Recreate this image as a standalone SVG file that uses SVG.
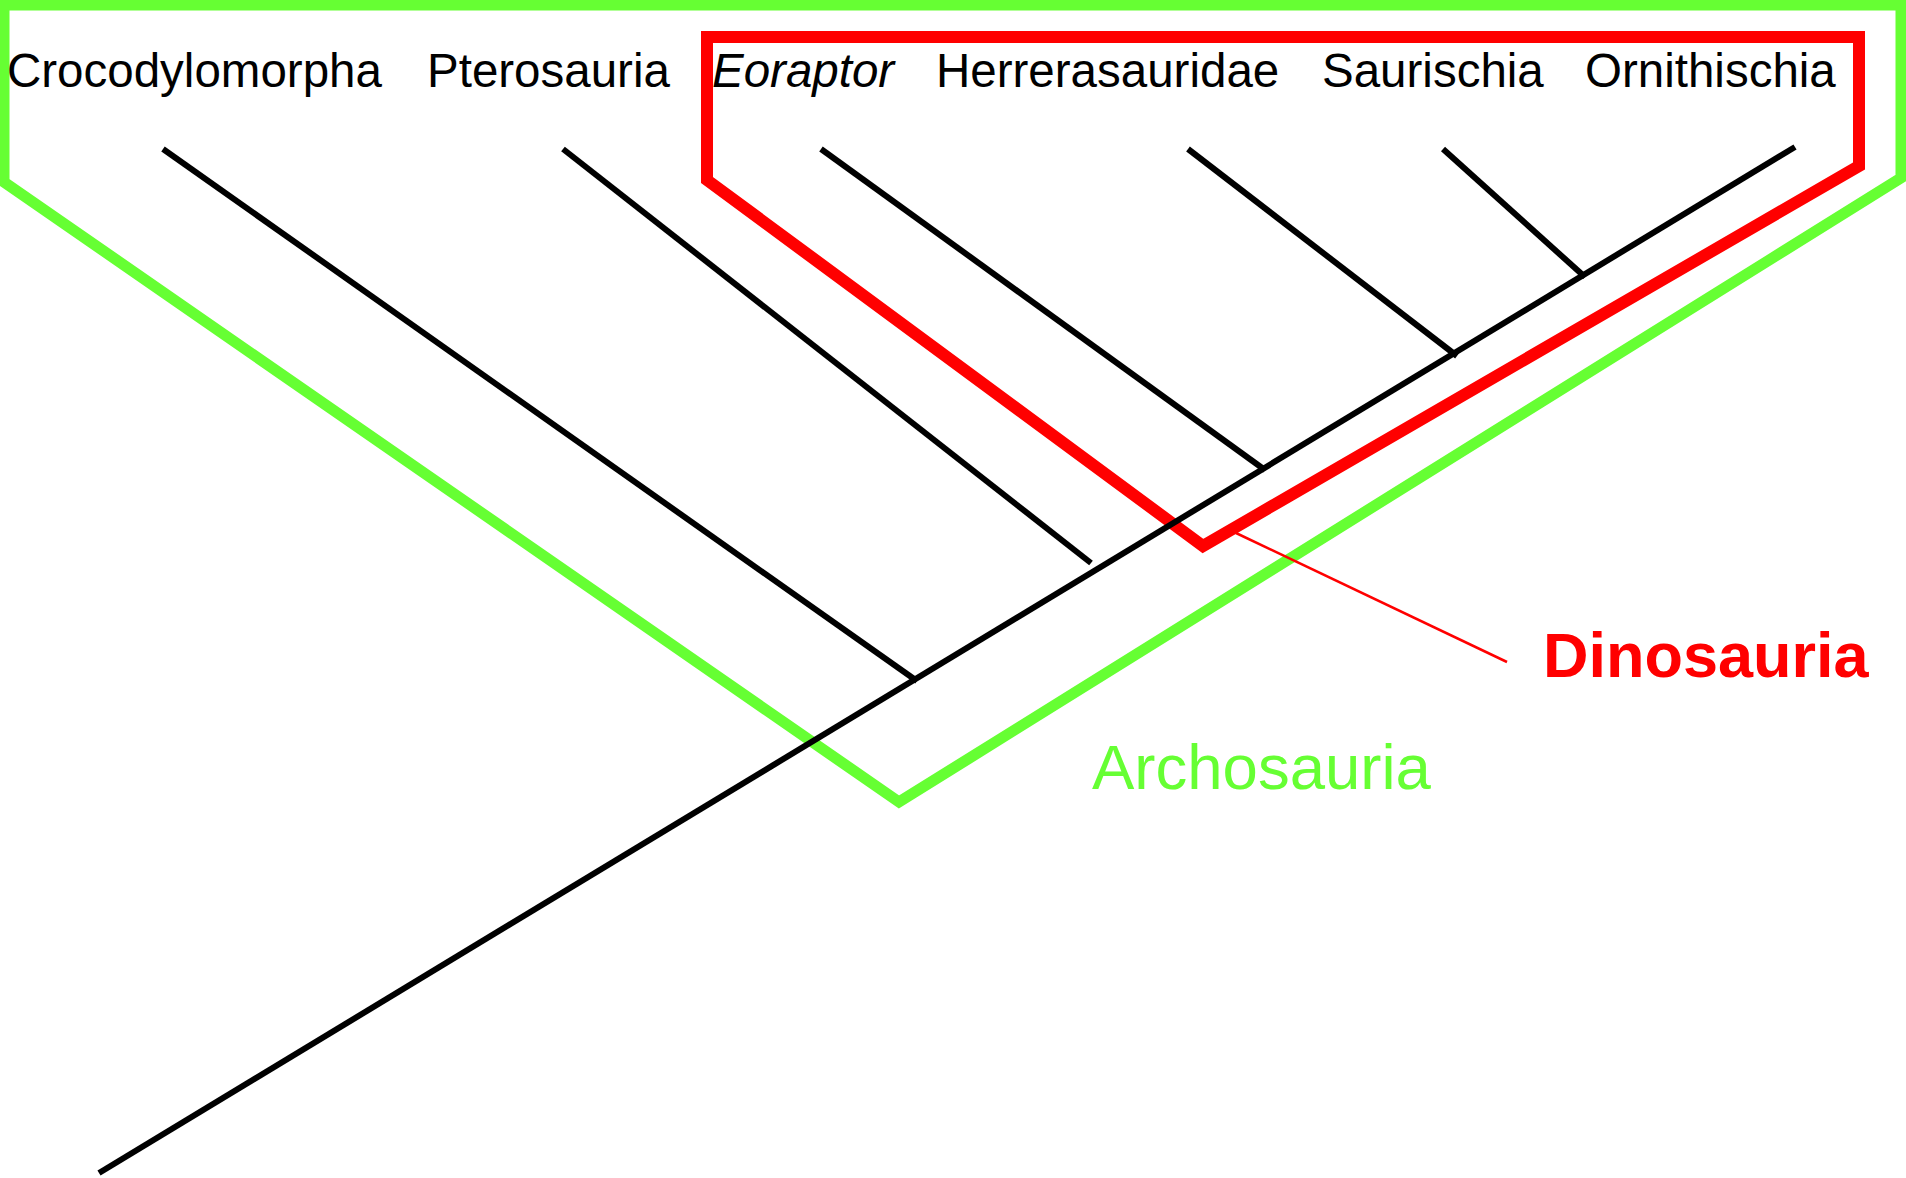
<svg xmlns="http://www.w3.org/2000/svg" width="1906" height="1178" viewBox="0 0 1906 1178">
  <style>
    .taxon { font-family: "Liberation Sans", Arial, sans-serif; font-size: 47.5px; fill: #000; }
    .branch { stroke: #000; stroke-width: 6; fill: none; stroke-linecap: butt; }
    .archo { stroke: #66ff33; stroke-width: 11; fill: none; stroke-linejoin: miter; }
    .dino { stroke: #ff0000; stroke-width: 12; fill: none; stroke-linejoin: miter; }
  </style>
  <rect width="1906" height="1178" fill="#fff"/>

  <!-- Clade brackets -->
  <g id="archosauria">
    <path class="archo" d="M0,5 H1901 V178 L899,802 L4,182 V5"/>
    <text x="1092" y="789" font-family="Liberation Sans, Arial, sans-serif" font-size="63.5" fill="#66ff33">Archosauria</text>
  </g>
  <g id="dinosauria">
    <path class="dino" d="M707,180 V37 H1859 V166 L1203,546 Z"/>
    <line x1="1236" y1="533" x2="1507" y2="662" stroke="#ff0000" stroke-width="2.5"/>
    <text x="1543" y="677" font-family="Liberation Sans, Arial, sans-serif" font-size="63" font-weight="bold" fill="#ff0000">Dinosauria</text>
  </g>

  <!-- Tree branches -->
  <g id="connectors">
    <line class="branch" x1="99" y1="1173" x2="1795" y2="147"/>
    <line class="branch" x1="163" y1="149" x2="917" y2="681"/>
    <line class="branch" x1="563" y1="149" x2="1091" y2="563"/>
    <line class="branch" x1="821" y1="149" x2="1265" y2="470"/>
    <line class="branch" x1="1188" y1="149" x2="1457" y2="356"/>
    <line class="branch" x1="1443" y1="149" x2="1585" y2="277"/>
  </g>

  <!-- Taxon labels -->
  <g id="crocodylomorpha"><text class="taxon" x="7" y="87">Crocodylomorpha</text></g>
  <g id="pterosauria"><text class="taxon" x="427" y="87">Pterosauria</text></g>
  <g id="eoraptor"><text class="taxon" x="712" y="87" font-style="italic">Eoraptor</text></g>
  <g id="herrerasauridae"><text class="taxon" x="936" y="87">Herrerasauridae</text></g>
  <g id="saurischia"><text class="taxon" x="1322" y="87">Saurischia</text></g>
  <g id="ornithischia"><text class="taxon" x="1585" y="87">Ornithischia</text></g>
</svg>
